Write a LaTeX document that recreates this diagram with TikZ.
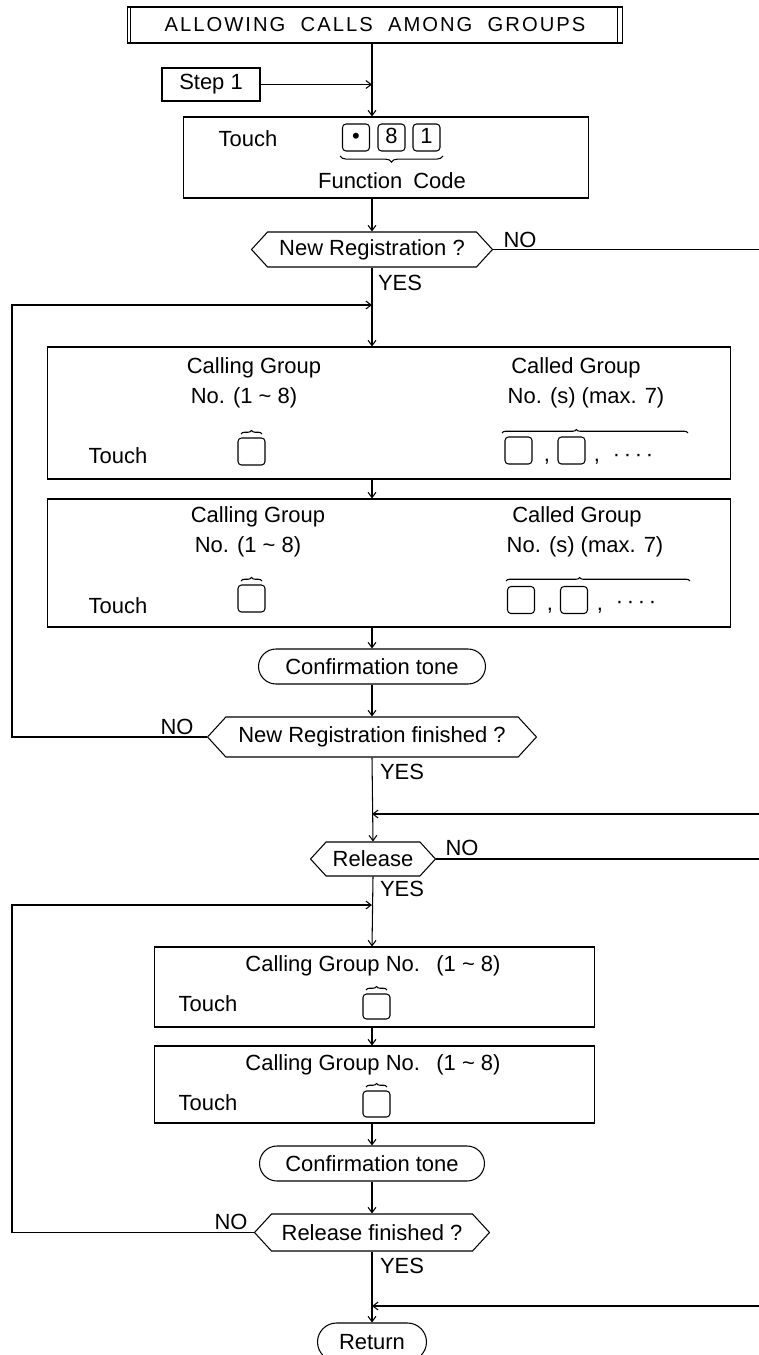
\documentclass[tikz,border=0pt]{standalone}
\usepackage{fontspec}
\setmainfont{Liberation Sans}
\newfontfamily\titlefont[LetterSpace=10]{Liberation Sans}
\usepackage{tikz}
\usetikzlibrary{
    shapes.misc,
    shapes.symbols,
    arrows.meta,
    positioning,
    calc,
    decorations.pathreplacing
}
\tikzset{
    % Heading box
    titlebox/.style={
        rectangle,
        draw,
        minimum width=9.92cm,
        minimum height=0.72cm,
        font=\titlefont\fontsize{11.5}{13}\selectfont,
        inner sep=0pt
    },
    % Step box
    stepbox/.style={
        rectangle,
        draw,
        minimum width=1.96cm,
        minimum height=0.66cm,
        inner sep=0pt
    },
    % Plain action box
    actionbox/.style={
        rectangle,
        draw,
        inner sep=0pt
    },
    % Key on the telephone
    keybox/.style={
        rectangle,
        rounded corners=2pt,
        draw,
        minimum width=0.54cm,
        minimum height=0.54cm,
        text height=0.7em,
        text depth=0pt,
        inner sep=0pt
    },
    % Decision node
    decisionnode/.style={
        signal,
        signal to=east and west,
        signal pointer angle=95,
        draw,
        inner sep=0pt
    },
    % Terminal node
    termnode/.style={
        rounded rectangle,
        draw,
        minimum height=0.7cm,
        inner sep=0pt
    },
    % Arrow style
    flowarrow/.style={
        -{Straight Barb[length=3pt,width=4.5pt]}
    },
    % Brace over keys
    keybrace/.style={
        decorate,
        decoration={brace, amplitude=#1}
    },
    keybrace/.default=2pt
}

\begin{document}
\begin{tikzpicture}[
    x=0.02cm, y=-0.02cm,
    line width=0.6pt,
    every node/.style={font=\fontsize{12.5}{15}\selectfont}
]
    \useasboundingbox (0,0) rectangle (759,1355);

    % Guide coordinates
    \coordinate (spine) at (372,0);
    \coordinate (leftx) at (12,0);
    \coordinate (rightx) at (759,0);

    % Heading
    \node[titlebox] (title) at (375,25) {ALLOWING\ \ CALLS\ \ AMONG\ \ GROUPS};
    \draw ([xshift=0.08cm]title.north west) -- ([xshift=0.08cm]title.south west);
    \draw ([xshift=-0.12cm]title.north east) -- ([xshift=-0.12cm]title.south east);
    \node[stepbox] (stepone) at (211,84.5) {Step 1};

    % Function code box
    \node[actionbox, minimum width=8.12cm, minimum height=1.62cm] (touchbox) at (386,157.5) {};
    \node (touch1) at (248,139) {Touch};
    \node[keybox] (fnkey1) at (356,137.5) {\textbullet};
    \node[keybox] (fnkey2) at (391.5,137.5) {8};
    \node[keybox] (fnkey3) at (426.5,137.5) {1};
    \draw[keybrace=3.5pt] (443,156) -- (340,156);
    \node (fncode) at (392,181) {Function\hspace{0.5em}Code};

    % New registration
    \node[decisionnode, minimum width=4.82cm, minimum height=0.7cm] (newreg) at (372,249.5) {New Registration ?};
    \node (newregno) at (520,240) {NO};
    \node (newregyes) at (400,283) {YES};

    % Calling / called group boxes
    \node[actionbox, minimum width=13.68cm, minimum height=2.64cm] (callA) at (389,413) {};
    \node (callAcg) at (254,368) {Calling Group};
    \node (callAcn) at (244,398) {No. (1 \textasciitilde\ 8)};
    \node (callAdg) at (576,368) {Called Group};
    \node (callAdn) at (586,398) {No. (s) (max. 7)};
    \node (callAt) at (118,456) {Touch};
    \node[keybox] (callAk1) at (251.5,451.5) {};
    \node[keybox] (callAk2) at (518.5,450.5) {};
    \node[anchor=base] (callAc1) at (547,461) {,};
    \node[keybox] (callAk3) at (571.5,450.5) {};
    \node[anchor=base] (callAc2) at (597,461) {,};
    \node (callAd) at (633,458) {·\,·\,·\,·};
    \draw[keybrace] (241,434) -- (262,434);
    \draw[keybrace, decoration={aspect=0.4}] (502,433) -- (688,433);

    \node[actionbox, minimum width=13.68cm, minimum height=2.56cm] (callB) at (389,563) {};
    \node (callBcg) at (258,517) {Calling Group};
    \node (callBcn) at (248,547) {No. (1 \textasciitilde\ 8)};
    \node (callBdg) at (577,517) {Called Group};
    \node (callBdn) at (585,547) {No. (s) (max. 7)};
    \node (callBt) at (118,606) {Touch};
    \node[keybox] (callBk1) at (251.5,598.5) {};
    \node[keybox] (callBk2) at (521,600) {};
    \node[anchor=base] (callBc1) at (550,610) {,};
    \node[keybox] (callBk3) at (574,600) {};
    \node[anchor=base] (callBc2) at (600,610) {,};
    \node (callBd) at (636,605) {·\,·\,·\,·};
    \draw[keybrace] (241,581) -- (262,581);
    \draw[keybrace, decoration={aspect=0.4}] (506,581) -- (690,581);

    \node[termnode, minimum width=4.54cm] (tone1) at (372,666.5) {Confirmation tone};

    % Registration finished
    \node[decisionnode, minimum width=6.58cm, minimum height=0.8cm] (regdone) at (372,737) {New Registration finished ?};
    \node (regdoneno) at (177,727) {NO};
    \node (regdoneyes) at (402,772) {YES};

    % Release
    \node[decisionnode, minimum width=2.5cm, minimum height=0.68cm] (release) at (373,859) {Release};
    \node (releaseno) at (462,848) {NO};
    \node (releaseyes) at (402,889) {YES};

    \node[actionbox, minimum width=8.82cm, minimum height=1.6cm] (relA) at (374.5,987) {};
    \node (relAcg) at (373,966) {Calling Group No.\hspace{0.75em}(1 \textasciitilde\ 8)};
    \node (relAt) at (208,1004) {Touch};
    \node[keybox, minimum height=0.5cm] (relAk) at (376.5,1006.5) {};
    \draw[keybrace] (366,990) -- (387,990);

    \node[actionbox, minimum width=8.82cm, minimum height=1.54cm] (relB) at (374.5,1084.5) {};
    \node (relBcg) at (373,1065) {Calling Group No.\hspace{0.75em}(1 \textasciitilde\ 8)};
    \node (relBt) at (208,1103) {Touch};
    \node[keybox, minimum height=0.52cm] (relBk) at (376.5,1104) {};
    \draw[keybrace] (366,1087) -- (387,1087);

    \node[termnode, minimum width=4.5cm] (tone2) at (372,1163.5) {Confirmation tone};

    % Release finished
    \node[decisionnode, minimum width=4.7cm, minimum height=0.74cm] (relfin) at (372,1232.5) {Release finished ?};
    \node (relfinno) at (231,1222) {NO};
    \node (relfinyes) at (402,1266) {YES};

    \node[termnode, minimum width=2.18cm, minimum height=0.76cm] (ret) at (372,1342) {Return};

    % Loop and entry coordinates
    \coordinate (loopA) at (372,305);
    \coordinate (loopB) at (372,905);
    \coordinate (inA) at (759,814);
    \coordinate (inB) at (759,1306);

    % Connectors
    \draw[flowarrow] (title.south -| spine) -- (touchbox.north -| spine);
    \draw[flowarrow] (stepone.east) -- (stepone.east -| spine);
    \draw[flowarrow] (touchbox.south -| spine) -- (newreg.north);
    \draw[flowarrow] (newreg.south) -- (callA.north -| spine);
    \draw (newreg.east) -- (newreg.east -| rightx);
    \draw[flowarrow] (callA.south -| spine) -- (callB.north -| spine);
    \draw[flowarrow] (callB.south -| spine) -- (tone1.north);
    \draw[flowarrow] (tone1.south) -- (regdone.north);
    \draw[flowarrow] (regdone.west) -- (leftx |- regdone.west) |- (loopA);
    \draw[flowarrow] (regdone.south) -- (release.north);
    \draw[flowarrow] (inA) -- (inA -| spine);
    \draw (release.east) -- (release.east -| rightx);
    \draw[flowarrow] (release.south) -- (relA.north -| spine);
    \draw[flowarrow] (relA.south -| spine) -- (relB.north -| spine);
    \draw[flowarrow] (relB.south -| spine) -- (tone2.north);
    \draw[flowarrow] (tone2.south) -- (relfin.north);
    \draw[flowarrow] (relfin.west) -- (leftx |- relfin.west) |- (loopB);
    \draw[flowarrow] (relfin.south) -- (ret.north);
    \draw[flowarrow] (inB) -- (inB -| spine);

\end{tikzpicture}
\end{document}
